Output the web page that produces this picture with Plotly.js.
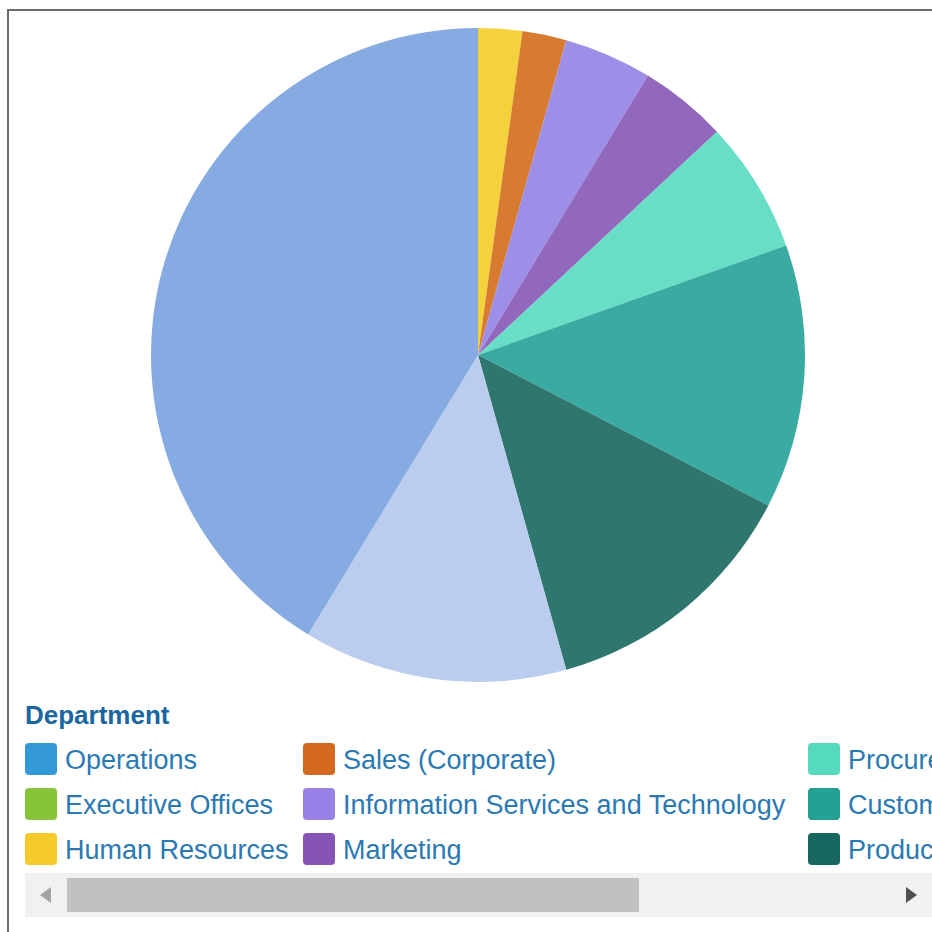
<!DOCTYPE html>
<html>
<head>
<meta charset="utf-8">
<script src="https://cdn.plot.ly/plotly-3.0.1.min.js"></script>
<style>
  html, body { margin: 0; padding: 0; background: #ffffff; overflow: hidden; }
  #chart { width: 932px; height: 932px; }
</style>
</head>
<body>
<div id="chart"></div>
<script>
// ---- data ----
const legendTitle = "Department";
const departments = [
  "Operations",
  "Executive Offices",
  "Human Resources",
  "Sales (Corporate)",
  "Information Services and Technology",
  "Marketing",
  "Procurement",
  "Customer Service",
  "Production",
  "Research and Development",
  "Warehouse"
];
const headcount = [0, 0, 1, 1, 2, 2, 3, 6, 6, 6, 19];

// ---- styles ----
const legendColors = [
  "#3399d7", "#86c53a", "#f4cb2b", "#d2691e", "#9881e6",
  "#8753b5", "#55dabe", "#22a294", "#176660", "#b3c8ee", "#6f9fe0"
];
const sliceColors = [
  "#47a3da", "#92cb4e", "#f5d23c", "#d67b30", "#9d8ee8",
  "#9268bd", "#68dec6", "#3aaba2", "#2e766e", "#bbcdef", "#85abe2"
];

const W = 932, H = 932;
const px = x => x / W;
const py = y => 1 - y / H;

// pie geometry (pixels)
const cx = 478, cy = 355, R = 327;

// legend layout (pixels)
const colX = [25, 303, 808];      // visible columns; further columns are scrolled out of view
const rowY = [759, 804, 849];
const swatch = 32, textGap = 40, rad = 4;
const itemFont = { family: "Liberation Sans, Arial, sans-serif", size: 27, color: "#2a79b2" };
const titleFont = { family: "Liberation Sans, Arial, sans-serif", size: 26, color: "#1a66a0", weight: "bold" };

function roundRectPath(x0, y0, w, h, r) {
  const x1 = x0 + w, y1 = y0 + h;
  return "M" + px(x0 + r) + "," + py(y0) +
    " L" + px(x1 - r) + "," + py(y0) +
    " Q" + px(x1) + "," + py(y0) + " " + px(x1) + "," + py(y0 + r) +
    " L" + px(x1) + "," + py(y1 - r) +
    " Q" + px(x1) + "," + py(y1) + " " + px(x1 - r) + "," + py(y1) +
    " L" + px(x0 + r) + "," + py(y1) +
    " Q" + px(x0) + "," + py(y1) + " " + px(x0) + "," + py(y1 - r) +
    " L" + px(x0) + "," + py(y0 + r) +
    " Q" + px(x0) + "," + py(y0) + " " + px(x0 + r) + "," + py(y0) + " Z";
}

const shapes = [];
const annotations = [];

// frame border
shapes.push({ type: "line", xref: "paper", yref: "paper", x0: px(7), x1: px(932), y0: py(10), y1: py(10),
  line: { color: "#6b6b6b", width: 2 } });
shapes.push({ type: "line", xref: "paper", yref: "paper", x0: px(8), x1: px(8), y0: py(9), y1: py(932),
  line: { color: "#6b6b6b", width: 2 } });

// legend title
annotations.push({ xref: "paper", yref: "paper", x: px(23), y: py(715), xanchor: "left", yanchor: "middle",
  text: "<b>" + legendTitle + "</b>", showarrow: false, font: titleFont });

// legend entries, column-major, 3 rows
departments.forEach((name, i) => {
  const col = Math.floor(i / rowY.length), row = i % rowY.length;
  if (col >= colX.length) return; // scrolled out of view
  const x0 = colX[col], yc = rowY[row];
  shapes.push({ type: "path", xref: "paper", yref: "paper",
    path: roundRectPath(x0, yc - swatch / 2, swatch, swatch, rad),
    fillcolor: legendColors[i], line: { width: 0 } });
  annotations.push({ xref: "paper", yref: "paper", x: px(x0 + textGap - 2), y: py(yc + 1),
    xanchor: "left", yanchor: "middle", text: name, showarrow: false, font: itemFont });
});

// horizontal scrollbar
shapes.push({ type: "rect", xref: "paper", yref: "paper", x0: px(25), x1: px(932), y0: py(873), y1: py(917),
  fillcolor: "#f1f1f1", line: { width: 0 } });
shapes.push({ type: "rect", xref: "paper", yref: "paper", x0: px(67), x1: px(639), y0: py(878), y1: py(912),
  fillcolor: "#c1c1c1", line: { width: 0 } });
shapes.push({ type: "path", xref: "paper", yref: "paper",
  path: "M" + px(40) + "," + py(895) + " L" + px(51) + "," + py(887) + " L" + px(51) + "," + py(903) + " Z",
  fillcolor: "#a3a3a3", line: { width: 0 } });
shapes.push({ type: "path", xref: "paper", yref: "paper",
  path: "M" + px(917) + "," + py(895) + " L" + px(906) + "," + py(887) + " L" + px(906) + "," + py(903) + " Z",
  fillcolor: "#505050", line: { width: 0 } });

const trace = {
  type: "pie",
  labels: departments,
  values: headcount,
  sort: false,
  direction: "clockwise",
  rotation: 0,
  textinfo: "none",
  hoverinfo: "label+value+percent",
  showlegend: false,
  marker: { colors: sliceColors, line: { width: 0 } },
  domain: { x: [px(cx - R), px(cx + R)], y: [py(cy + R), py(cy - R)] }
};

const layout = {
  width: W, height: H,
  margin: { l: 0, r: 0, t: 0, b: 0, pad: 0 },
  paper_bgcolor: "#ffffff",
  showlegend: false,
  shapes: shapes,
  annotations: annotations
};

Plotly.newPlot("chart", [trace], layout, { displayModeBar: false, staticPlot: false });
</script>
</body>
</html>
